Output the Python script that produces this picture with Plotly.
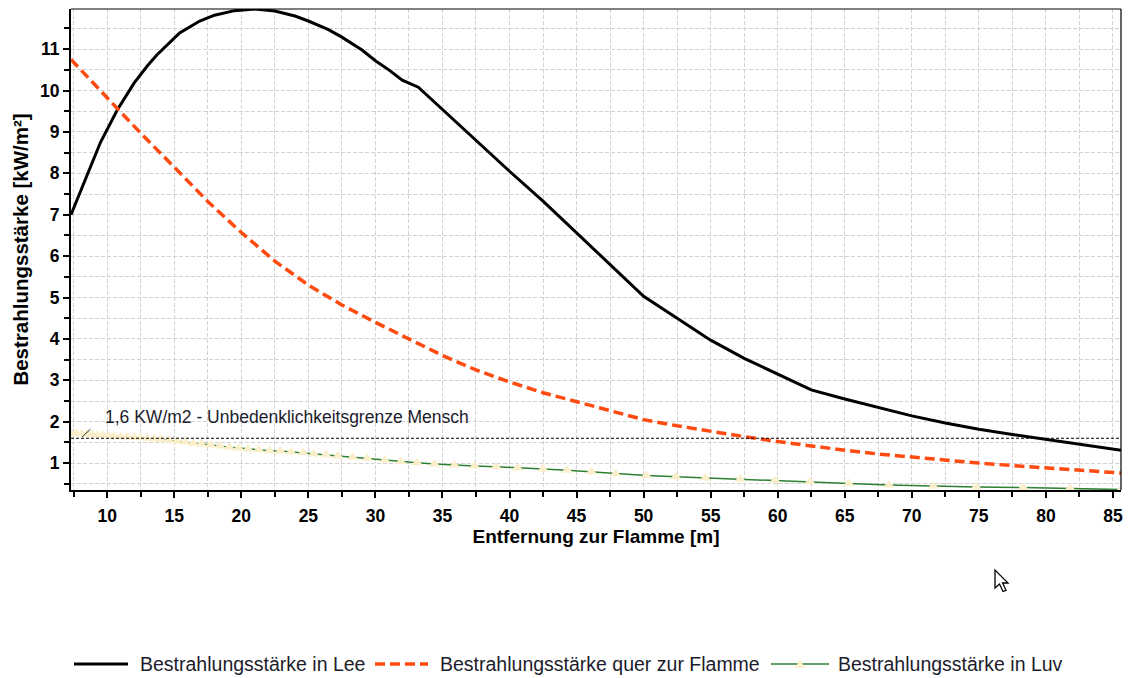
import plotly.graph_objects as go

# Bestrahlungsstärke in Lee (downwind)
lee_x = [7.3, 7.75, 8.5, 9.5, 10.75, 12.0, 13.0, 13.7, 15.4, 16.9, 18.0, 19.5, 21.0,
         22.5, 24.0, 25.0, 26.5, 27.5, 29.0, 30.0, 31.0, 32.0, 33.2, 34.0, 35.0, 36.0,
         37.0, 38.0, 39.0, 40.0, 42.5, 45.0, 47.5, 50.0, 52.5, 55.0, 57.5, 60.0, 62.5,
         65.0, 67.5, 70.0, 72.5, 75.0, 77.5, 80.0, 82.5, 85.6]
lee_y = [7.0, 7.36, 7.95, 8.75, 9.53, 10.18, 10.6, 10.86, 11.39, 11.68, 11.82, 11.93, 11.97,
         11.92, 11.8, 11.68, 11.47, 11.29, 10.98, 10.72, 10.5, 10.25, 10.08, 9.84, 9.55, 9.25,
         8.95, 8.65, 8.35, 8.05, 7.33, 6.56, 5.8, 5.03, 4.5, 3.97, 3.53, 3.15, 2.77,
         2.55, 2.34, 2.14, 1.97, 1.82, 1.69, 1.57, 1.46, 1.31]

# Bestrahlungsstärke quer zur Flamme (crosswind)
quer_x = [7.3, 8.5, 9.5, 10.75, 12.5, 15.0, 17.5, 20.0, 22.5, 25.0, 27.5, 30.0, 32.5,
          35.0, 37.5, 40.0, 42.5, 45.0, 47.5, 50.0, 52.5, 55.0, 57.5, 60.0, 62.5, 65.0,
          67.5, 70.0, 72.5, 75.0, 77.5, 80.0, 82.5, 85.6]
quer_y = [10.75, 10.34, 10.0, 9.58, 8.97, 8.15, 7.32, 6.57, 5.88, 5.3, 4.82, 4.4, 4.0,
          3.6, 3.25, 2.96, 2.7, 2.48, 2.25, 2.05, 1.9, 1.76, 1.64, 1.52, 1.41, 1.31,
          1.22, 1.14, 1.07, 1.0, 0.94, 0.88, 0.83, 0.76]

# Bestrahlungsstärke in Luv (upwind)
luv_x = [7.3, 7.7, 8.1, 8.5, 8.9, 9.3, 9.7, 10.1, 10.5, 11.0, 11.5, 12.0, 12.5, 13.0,
         13.5, 14.0, 14.6, 15.2, 15.8, 16.4, 17.0, 17.7, 18.4, 19.1, 19.8, 20.5, 21.3,
         22.1, 22.9, 23.7, 24.6, 25.4, 26.3, 27.2, 28.3, 29.4, 30.7, 31.9, 33.1, 34.4,
         35.9, 37.4, 39.0, 40.6, 42.5, 44.3, 46.1, 47.9, 50.2, 52.4, 54.6, 57.2, 59.8,
         62.4, 65.3, 68.3, 71.6, 74.8, 78.3, 81.8, 85.6]
luv_y = [1.72, 1.71, 1.70, 1.70, 1.69, 1.68, 1.67, 1.66, 1.65, 1.64, 1.63, 1.62, 1.61, 1.60,
         1.58, 1.57, 1.55, 1.53, 1.51, 1.48, 1.46, 1.44, 1.41, 1.38, 1.36, 1.34, 1.32,
         1.30, 1.29, 1.27, 1.25, 1.22, 1.20, 1.17, 1.14, 1.11, 1.07, 1.03, 1.01, 0.98,
         0.95, 0.93, 0.91, 0.88, 0.86, 0.83, 0.79, 0.74, 0.70, 0.67, 0.64, 0.61, 0.58,
         0.55, 0.51, 0.47, 0.44, 0.42, 0.41, 0.39, 0.36]

series_names = ["Bestrahlungsstärke in Lee",
                "Bestrahlungsstärke quer zur Flamme",
                "Bestrahlungsstärke in Luv"]

limit_value = 1.6
limit_label = "1,6 KW/m2 - Unbedenklichkeitsgrenze Mensch"

x_title = "Entfernung zur Flamme [m]"
y_title = "Bestrahlungsstärke [kW/m²]"

W, H = 1131, 678
M_L, M_R, M_T, M_B = 71, 10, 9, 188
FONT = "Liberation Sans, Arial, sans-serif"
TEXT = "#1c1c2c"
GRID = "#D2D2D2"
LEE_COLOR, QUER_COLOR, LUV_COLOR, LUV_MARK = "black", "#FF4A10", "#2E8032", "#FBEFCB"
QUER_DASH = "10px,5px"


def px_to_paper(px, py):
    return (px - M_L) / (W - M_L - M_R), (H - M_B - py) / (H - M_T - M_B)


fig = go.Figure()
fig.add_trace(go.Scatter(x=lee_x, y=lee_y, name=series_names[0], mode="lines",
                         line=dict(color=LEE_COLOR, width=3)))
fig.add_trace(go.Scatter(x=quer_x, y=quer_y, name=series_names[1], mode="lines",
                         line=dict(color=QUER_COLOR, width=3.5, dash=QUER_DASH)))
fig.add_trace(go.Scatter(x=luv_x, y=luv_y, name=series_names[2], mode="lines+markers",
                         line=dict(color=LUV_COLOR, width=1.5),
                         marker=dict(symbol="triangle-up", size=10, color=LUV_MARK,
                                     line=dict(width=0))))

# threshold line with its label and leader
fig.add_shape(type="line", xref="paper", x0=0, x1=1, yref="y", y0=limit_value, y1=limit_value,
              line=dict(color="black", width=1, dash="3px,2px"), layer="above")
fig.add_shape(type="line", xref="x", yref="y", x0=8.13, y0=limit_value + 0.03,
              x1=8.75, y1=limit_value + 0.22, line=dict(color="#333333", width=1))
fig.add_annotation(x=9.65, y=2.11, xref="x", yref="y", text=limit_label, showarrow=False,
                   xanchor="left", yanchor="middle",
                   font=dict(family=FONT, size=17.5, color=TEXT))

# frame: thin top and right edges
fig.add_shape(type="line", xref="paper", yref="paper", x0=0, x1=1, y0=1, y1=1,
              line=dict(color="black", width=1.2))
fig.add_shape(type="line", xref="paper", yref="paper", x0=1, x1=1, y0=0, y1=1,
              line=dict(color="black", width=1.2))

# legend row below the chart
legend_y = 664
legend_items = [
    (series_names[0], 74, 128, 138, dict(color=LEE_COLOR, width=3)),
    (series_names[1], 375, 428, 438, dict(color=QUER_COLOR, width=3.5, dash=QUER_DASH)),
    (series_names[2], 771, 829, 836, dict(color=LUV_COLOR, width=1.5)),
]
for label, lx0, lx1, tx, style in legend_items:
    (ax0, ay), (ax1, _) = px_to_paper(lx0, legend_y), px_to_paper(lx1, legend_y)
    fig.add_shape(type="line", xref="paper", yref="paper", x0=ax0, x1=ax1, y0=ay, y1=ay,
                  line=style)
    tx_p, _ = px_to_paper(tx, legend_y)
    fig.add_annotation(x=tx_p, y=ay, xref="paper", yref="paper", text=label, showarrow=False,
                       xanchor="left", yanchor="middle",
                       font=dict(family=FONT, size=19.5, color=TEXT))
tri = [px_to_paper(800 + dx, legend_y + dy) for dx, dy in [(-5, 4), (0, -5), (5, 4)]]
fig.add_shape(type="path", xref="paper", yref="paper",
              path="M " + " L ".join(f"{a:.5f},{b:.5f}" for a, b in tri) + " Z",
              fillcolor=LUV_MARK, line=dict(width=0))

# mouse pointer glyph
tip = (995, 570)
outline = [(0, 0), (0, 18), (4.5, 14), (8, 21.5), (11, 20.3), (7.6, 13), (13, 13)]
pts = [px_to_paper(tip[0] + dx, tip[1] + dy) for dx, dy in outline]
fig.add_shape(type="path", xref="paper", yref="paper",
              path="M " + " L ".join(f"{a:.5f},{b:.5f}" for a, b in pts) + " Z",
              fillcolor="white", line=dict(color="black", width=1.3))

tick_font = dict(family=FONT, size=17.5, color="black", weight="bold")

fig.update_xaxes(range=[7.3, 85.6], tick0=0, dtick=5, ticks="outside", ticklen=6,
                 tickwidth=2, tickcolor="black", showline=True, linewidth=2, linecolor="black",
                 showgrid=True, gridcolor=GRID, griddash="4px,2px", gridwidth=1,
                 zeroline=False, tickfont=tick_font, ticklabelstandoff=3,
                 title=dict(text=x_title, standoff=4,
                            font=dict(family=FONT, size=19, color="black", weight="bold")),
                 minor=dict(dtick=2.5, tick0=0, ticks="outside", ticklen=5, tickwidth=2,
                            tickcolor="black", showgrid=True, gridcolor=GRID,
                            griddash="4px,2px", gridwidth=1))
fig.update_yaxes(range=[0.35, 11.97], tick0=0, dtick=1, ticks="outside", ticklen=6,
                 tickwidth=2, tickcolor="black", showline=True, linewidth=2, linecolor="black",
                 showgrid=True, gridcolor=GRID, griddash="4px,2px", gridwidth=1,
                 zeroline=False, tickfont=tick_font,
                 title=dict(text=y_title, standoff=6,
                            font=dict(family=FONT, size=20.5, color="black", weight="bold")),
                 minor=dict(dtick=0.5, tick0=0, ticks="outside", ticklen=5, tickwidth=2,
                            tickcolor="black", showgrid=True, gridcolor=GRID,
                            griddash="4px,2px", gridwidth=1))

fig.update_layout(
    width=W, height=H, autosize=False,
    margin=dict(l=M_L, r=M_R, t=M_T, b=M_B, pad=0),
    paper_bgcolor="white", plot_bgcolor="white",
    font=dict(family=FONT, size=16, color=TEXT),
    showlegend=False,
)

fig.write_html("out.html")
